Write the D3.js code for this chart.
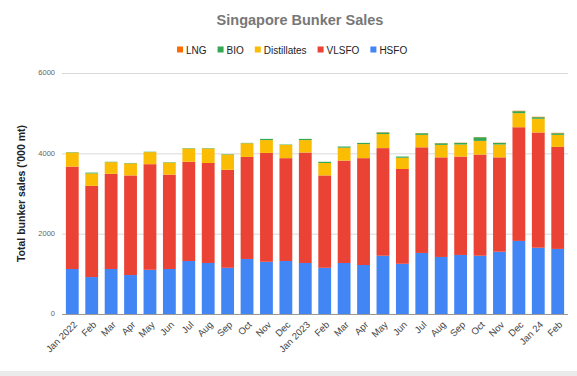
<!DOCTYPE html>
<html>
<head>
<meta charset="utf-8">
<script src="https://cdn.jsdelivr.net/npm/d3@7"></script>
<style>
  body { margin: 0; background: #fff; font-family: "Liberation Sans", Arial, sans-serif; }
</style>
</head>
<body>
<div id="chart"></div>
<script>
// months Jan 2022 .. Feb 2024
const months = ["Jan 2022", "Feb", "Mar", "Apr", "May", "Jun", "Jul", "Aug", "Sep", "Oct", "Nov", "Dec",
    "Jan 2023", "Feb", "Mar", "Apr", "May", "Jun", "Jul", "Aug", "Sep", "Oct", "Nov", "Dec", "Jan 24", "Feb"];

// values in '000 mt
const hsfo = [1120, 920, 1120, 970, 1100, 1120, 1320, 1270, 1150, 1370, 1300, 1320,
    1270, 1150, 1270, 1220, 1450, 1250, 1520, 1420, 1470, 1450, 1550, 1820, 1650, 1620];
const vlsfo = [2550, 2270, 2370, 2480, 2630, 2350, 2470, 2490, 2440, 2540, 2710, 2560,
    2750, 2300, 2550, 2660, 2680, 2360, 2630, 2480, 2450, 2520, 2350, 2830, 2870, 2540];
const distillates = [350, 310, 290, 300, 300, 300, 330, 360, 380, 340, 320, 330,
    310, 310, 320, 350, 350, 280, 310, 310, 300, 340, 320, 350, 340, 300];
const bio = [10, 20, 10, 10, 10, 10, 10, 10, 10, 10, 30, 10,
    30, 30, 30, 30, 40, 30, 40, 40, 40, 90, 40, 50, 40, 40];
const lng = [0, 0, 0, 0, 0, 0, 0, 0, 0, 0, 0, 0,
    0, 0, 0, 0, 5, 0, 5, 5, 5, 5, 5, 10, 10, 10];

const yTicks = [0, 2000, 4000, 6000];

// stack order bottom -> top
const seriesKeys = ["HSFO", "VLSFO", "Distillates", "BIO", "LNG"];
const legendKeys = ["LNG", "BIO", "Distillates", "VLSFO", "HSFO"];
const colors = { HSFO: "#4285f4", VLSFO: "#ea4335", Distillates: "#fbbc04", BIO: "#34a853", LNG: "#ff6d01" };

const rows = months.map((m, i) => ({
    key: i, label: m,
    HSFO: hsfo[i], VLSFO: vlsfo[i], Distillates: distillates[i], BIO: bio[i], LNG: lng[i]
}));

const width = 577, height = 376;
const margin = { top: 73, right: 9, bottom: 62, left: 62 };

const svg = d3.select("#chart").append("svg")
    .attr("width", width)
    .attr("height", height);

svg.append("rect").attr("x", 0).attr("y", 0).attr("width", width).attr("height", height).attr("fill", "#fff");
// grey strip along the bottom of the screenshot
svg.append("rect").attr("x", 0).attr("y", 371).attr("width", width).attr("height", 5).attr("fill", "#ebebeb");

const x = d3.scaleBand()
    .domain(rows.map(d => d.key))
    .range([margin.left, width - margin.right])
    .paddingInner(0.34)
    .paddingOuter(0.2);

const y = d3.scaleLinear()
    .domain([0, 6000])
    .range([height - margin.bottom, margin.top]);

// gridlines
svg.append("g")
    .selectAll("line")
    .data(yTicks)
    .join("line")
    .attr("x1", margin.left)
    .attr("x2", width - margin.right)
    .attr("y1", d => y(d) + 0.5)
    .attr("y2", d => y(d) + 0.5)
    .attr("stroke", d => d === 0 ? "#999" : "#d9d9d9")
    .attr("stroke-width", 1);

// y tick labels
svg.append("g")
    .selectAll("text")
    .data(yTicks)
    .join("text")
    .attr("x", margin.left - 7)
    .attr("y", d => y(d))
    .attr("dy", "0.32em")
    .attr("text-anchor", "end")
    .attr("font-size", 7.5)
    .attr("fill", "#666")
    .text(d => d);

// stacked bars
const stacked = d3.stack().keys(seriesKeys)(rows);

svg.append("g")
    .selectAll("g")
    .data(stacked)
    .join("g")
    .attr("fill", d => colors[d.key])
    .selectAll("rect")
    .data(d => d)
    .join("rect")
    .attr("x", d => x(d.data.key))
    .attr("width", x.bandwidth())
    .attr("y", d => y(d[1]))
    .attr("height", d => y(d[0]) - y(d[1]));

// x labels
svg.append("g")
    .selectAll("text")
    .data(rows)
    .join("text")
    .attr("transform", d => `translate(${x(d.key) + x.bandwidth() / 2 + 3},${height - margin.bottom + 9}) rotate(-45)`)
    .attr("text-anchor", "end")
    .attr("dy", "0.35em")
    .attr("font-size", 9.5)
    .attr("fill", "#444")
    .text(d => d.label);

// title
svg.append("text")
    .attr("x", 300)
    .attr("y", 25)
    .attr("text-anchor", "middle")
    .attr("font-size", 14.5)
    .attr("font-weight", "bold")
    .attr("fill", "#777")
    .text("Singapore Bunker Sales");

// legend
const legend = svg.append("g").attr("transform", "translate(177,50)");
let lx = 0;
legendKeys.forEach(k => {
    const item = legend.append("g").attr("transform", `translate(${lx},0)`);
    item.append("rect").attr("x", 0).attr("y", -3.5).attr("width", 6).attr("height", 6).attr("fill", colors[k]);
    const t = item.append("text")
        .attr("x", 9)
        .attr("y", 0)
        .attr("dy", "0.35em")
        .attr("font-size", 10)
        .attr("fill", "#222")
        .text(k);
    lx += 9 + t.node().getComputedTextLength() + 11;
});

// y axis title
svg.append("text")
    .attr("transform", `translate(25,${(y(0) + y(6000)) / 2}) rotate(-90)`)
    .attr("text-anchor", "middle")
    .attr("font-size", 10.5)
    .attr("font-weight", "bold")
    .attr("fill", "#222")
    .text("Total bunker sales ('000 mt)");
</script>
</body>
</html>
